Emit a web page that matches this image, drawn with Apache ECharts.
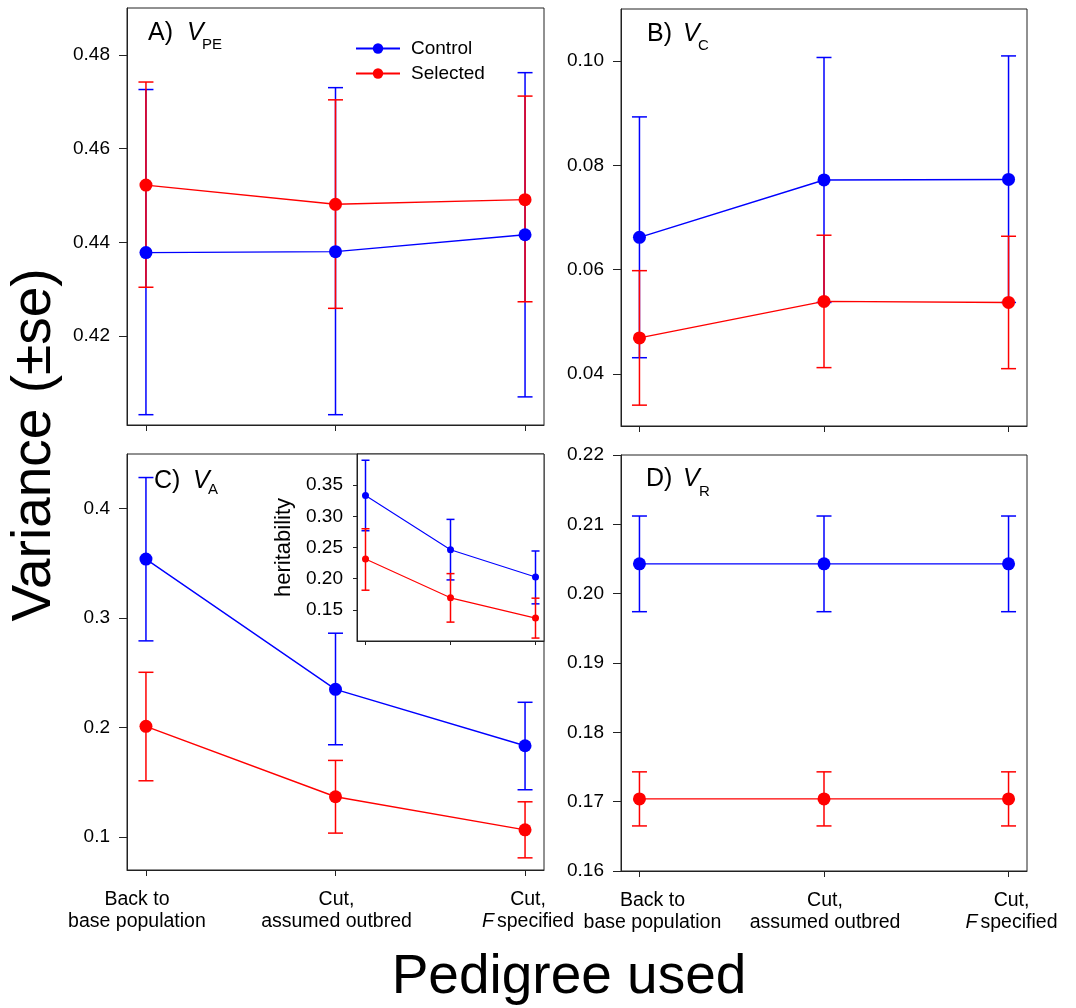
<!DOCTYPE html>
<html>
<head>
<meta charset="utf-8">
<script src="https://cdn.jsdelivr.net/npm/echarts@6/dist/echarts.min.js"></script>
<style>
  html, body { margin: 0; padding: 0; background: #fff; }
  #chart { width: 1076px; height: 1008px; }
</style>
</head>
<body>
<div id="chart"></div>
<script>
// pedigree categories (x positions 0,1,2)
const categories = [['Back to', 'base population'], ['Cut,', 'assumed outbred'], ['Cut,', 'F specified']];
const xIdx = [0, 1, 2];

// A) V_PE
const vpeControl = [0.4378, 0.4380, 0.4416];
const vpeControlLo = [0.4032, 0.4032, 0.4070];
const vpeControlHi = [0.4726, 0.4730, 0.4762];
const vpeSelected = [0.4522, 0.4481, 0.4491];
const vpeSelectedLo = [0.4304, 0.4259, 0.4273];
const vpeSelectedHi = [0.4742, 0.4704, 0.4712];

// B) V_C
const vcControl = [0.0662, 0.0772, 0.0773];
const vcControlLo = [0.0431, 0.0537, 0.0537];
const vcControlHi = [0.0893, 0.1007, 0.1010];
const vcSelected = [0.0469, 0.0539, 0.0537];
const vcSelectedLo = [0.0340, 0.0412, 0.0410];
const vcSelectedHi = [0.0598, 0.0666, 0.0664];

// C) V_A
const vaControl = [0.354, 0.235, 0.1835];
const vaControlLo = [0.2793, 0.1844, 0.1433];
const vaControlHi = [0.4285, 0.2863, 0.2232];
const vaSelected = [0.2012, 0.1369, 0.1067];
const vaSelectedLo = [0.1515, 0.1037, 0.0811];
const vaSelectedHi = [0.2506, 0.1701, 0.1323];

// inset: heritability
const h2Control = [0.3335, 0.2465, 0.2028];
const h2ControlLo = [0.2769, 0.1980, 0.1596];
const h2ControlHi = [0.3900, 0.2951, 0.2444];
const h2Selected = [0.2316, 0.1692, 0.1367];
const h2SelectedLo = [0.1815, 0.1303, 0.1047];
const h2SelectedHi = [0.2801, 0.2081, 0.1687];

// D) V_R
const vrControl = [0.2043, 0.2043, 0.2043];
const vrControlLo = [0.1974, 0.1974, 0.1974];
const vrControlHi = [0.2112, 0.2112, 0.2112];
const vrSelected = [0.1704, 0.1704, 0.1704];
const vrSelectedLo = [0.1665, 0.1665, 0.1665];
const vrSelectedHi = [0.1743, 0.1743, 0.1743];

// tick labels
const ticksA = [0.42, 0.44, 0.46, 0.48];
const ticksB = [0.04, 0.06, 0.08, 0.10];
const ticksC = [0.1, 0.2, 0.3, 0.4];
const ticksInset = [0.15, 0.20, 0.25, 0.30, 0.35];
const ticksD = [0.16, 0.17, 0.18, 0.19, 0.20, 0.21, 0.22];

const BLUE = '#0000ff';
const RED = '#ff0000';
const FONT = 'Liberation Sans, Arial, sans-serif';

const chart = echarts.init(document.getElementById('chart'), null, { renderer: 'canvas' });

const grids = [
  { left: 127, top: 8, width: 417, height: 417 },   // A
  { left: 621, top: 9, width: 406, height: 417 },   // B
  { left: 127, top: 454, width: 417, height: 416 }, // C
  { left: 621, top: 455, width: 406, height: 416 }, // D
  { left: 357, top: 454, width: 187, height: 187, backgroundColor: '#fff' } // inset
].map(g => Object.assign({
  show: true, borderColor: '#222', borderWidth: 1, backgroundColor: 'transparent', containLabel: false
}, g));

const LBL = { fontFamily: FONT, fontSize: 19.5, lineHeight: 22, color: '#000' };

// in the original the tick labels sit a little off their ticks; shift in px per label
function xAxis(gi, withLabels, small, shifts) {
  const rich = {};
  const pad = s => (s >= 0 ? [0, 0, 0, 2 * s] : [0, -2 * s, 0, 0]);
  (shifts || [0, 0, 0]).forEach((s, k) => {
    rich['l' + k] = Object.assign({ padding: pad(s) }, LBL);
    rich['f' + k] = Object.assign({ padding: pad(s), fontStyle: 'italic' }, LBL);
  });
  rich.rest = Object.assign({ padding: [0, 0, 0, 3] }, LBL);
  return {
    type: 'value', gridIndex: gi, min: -0.1, max: 2.1,
    axisLine: { show: true, onZero: false, lineStyle: { color: '#222', width: 1 } },
    axisTick: { show: true, customValues: xIdx, length: small ? 4 : 6, lineStyle: { color: '#222' } },
    axisLabel: {
      show: withLabels, customValues: xIdx, margin: 19, color: '#000',
      fontFamily: FONT, fontSize: 19.5, lineHeight: 22, align: 'center',
      formatter: v => {
        const k = Math.round(v);
        const c = categories[k];
        const second = c[1].startsWith('F ')
          ? '{f' + k + '|F}{rest|' + c[1].slice(2) + '}'
          : '{l' + k + '|' + c[1] + '}';
        return '{l' + k + '|' + c[0] + '}\n' + second;
      },
      rich: rich
    },
    splitLine: { show: false }
  };
}

function yAxis(gi, min, max, ticks, digits, small) {
  return {
    type: 'value', gridIndex: gi, min: min, max: max,
    axisLine: { show: true, onZero: false, lineStyle: { color: '#222', width: 1 } },
    axisTick: { show: true, customValues: ticks, length: small ? 4 : 8, lineStyle: { color: '#222' } },
    axisLabel: {
      customValues: ticks, margin: small ? 14 : 17, color: '#000',
      fontFamily: FONT, fontSize: 19,
      formatter: v => v.toFixed(digits)
    },
    splitLine: { show: false }
  };
}

const errRender = capHalf => (params, api) => {
  const x = api.value(0);
  const lo = api.coord([x, api.value(1)]);
  const hi = api.coord([x, api.value(2)]);
  const style = { stroke: api.visual('color'), lineWidth: 1.5 };
  return {
    type: 'group',
    children: [
      { type: 'line', shape: { x1: lo[0], y1: lo[1], x2: hi[0], y2: hi[1] }, style: style },
      { type: 'line', shape: { x1: lo[0] - capHalf, y1: lo[1], x2: lo[0] + capHalf, y2: lo[1] }, style: style },
      { type: 'line', shape: { x1: hi[0] - capHalf, y1: hi[1], x2: hi[0] + capHalf, y2: hi[1] }, style: style }
    ]
  };
};

function errSeries(gi, lo, hi, color, small) {
  return {
    type: 'custom', xAxisIndex: gi, yAxisIndex: gi, z: 2,
    renderItem: errRender(small ? 4 : 7.5),
    itemStyle: { color: color },
    data: xIdx.map(i => [i, lo[i], hi[i]]),
    silent: true, clip: false
  };
}

function lineSeries(gi, name, vals, color, small) {
  return {
    type: 'line', name: name, xAxisIndex: gi, yAxisIndex: gi, z: 3,
    data: xIdx.map(i => [i, vals[i]]),
    symbol: 'circle', symbolSize: small ? 7 : 13,
    itemStyle: { color: color },
    lineStyle: { color: color, width: small ? 1.1 : 1.4 },
    silent: true
  };
}

const panels = [
  [0, vpeControl, vpeControlLo, vpeControlHi, vpeSelected, vpeSelectedLo, vpeSelectedHi, false],
  [1, vcControl, vcControlLo, vcControlHi, vcSelected, vcSelectedLo, vcSelectedHi, false],
  [2, vaControl, vaControlLo, vaControlHi, vaSelected, vaSelectedLo, vaSelectedHi, false],
  [3, vrControl, vrControlLo, vrControlHi, vrSelected, vrSelectedLo, vrSelectedHi, false],
  [4, h2Control, h2ControlLo, h2ControlHi, h2Selected, h2SelectedLo, h2SelectedHi, true]
];

const series = [];
panels.forEach(p => {
  const [gi, c, cl, ch, s, sl, sh, small] = p;
  series.push(errSeries(gi, cl, ch, BLUE, small));
  series.push(errSeries(gi, sl, sh, RED, small));
  series.push(lineSeries(gi, 'Control', c, BLUE, small));
  series.push(lineSeries(gi, 'Selected', s, RED, small));
});

// panel letter labels: [letter, x, baseline, vX, sub, subX, subBaseline]
const panelLabels = [
  ['A)', 148, 42, 187, 'PE', 202, 50],
  ['B)', 647, 43, 683, 'C', 698, 51],
  ['C)', 154, 490, 193, 'A', 208, 495],
  ['D)', 646, 488, 683, 'R', 699, 497]
];
const graphics = [];
panelLabels.forEach(l => {
  graphics.push({ type: 'text', x: l[1], y: l[2] - 8.5, z: 10,
    style: { text: l[0], font: '25px ' + FONT, fill: '#000', textAlign: 'left', textVerticalAlign: 'middle' } });
  graphics.push({ type: 'text', x: l[3], y: l[2] - 8.5, z: 10,
    style: { text: 'V', font: 'italic 25px ' + FONT, fill: '#000', textAlign: 'left', textVerticalAlign: 'middle' } });
  graphics.push({ type: 'text', x: l[5], y: l[6] - 5.3, z: 10,
    style: { text: l[4], font: '15px ' + FONT, fill: '#000', textAlign: 'left', textVerticalAlign: 'middle' } });
});
graphics.push({ type: 'text', x: 35, y: 445, rotation: Math.PI / 2, z: 10,
  style: { text: 'Variance (±se)', font: '55px ' + FONT, fill: '#000', textAlign: 'center', textVerticalAlign: 'middle' } });
graphics.push({ type: 'text', x: 569, y: 978, z: 10,
  style: { text: 'Pedigree used', font: '55px ' + FONT, fill: '#000', textAlign: 'center', textVerticalAlign: 'middle' } });

const option = {
  animation: false,
  backgroundColor: '#fff',
  grid: grids,
  xAxis: [
    xAxis(0, false), xAxis(1, false),
    xAxis(2, true, false, [-9, 1, 3]),
    xAxis(3, true, false, [13, 1, 3]),
    xAxis(4, false, true)
  ],
  yAxis: [
    yAxis(0, 0.401, 0.490, ticksA, 2),
    yAxis(1, 0.03, 0.11, ticksB, 2),
    yAxis(2, 0.07, 0.45, ticksC, 1),
    yAxis(3, 0.16, 0.22, ticksD, 2),
    Object.assign(yAxis(4, 0.10, 0.40, ticksInset, 2, true), {
      name: 'heritability', nameLocation: 'middle', nameGap: 62,
      nameTextStyle: { fontFamily: FONT, fontSize: 22, color: '#000' }
    })
  ],
  legend: {
    data: ['Control', 'Selected'],
    orient: 'vertical', left: 355, top: 39, padding: 0,
    itemWidth: 44, itemHeight: 13, itemGap: 6,
    textStyle: { fontFamily: FONT, fontSize: 19, color: '#000', padding: [0, 0, 0, 6] },
    selectedMode: false
  },
  graphic: graphics,
  series: series
};

chart.setOption(option);
</script>
</body>
</html>
